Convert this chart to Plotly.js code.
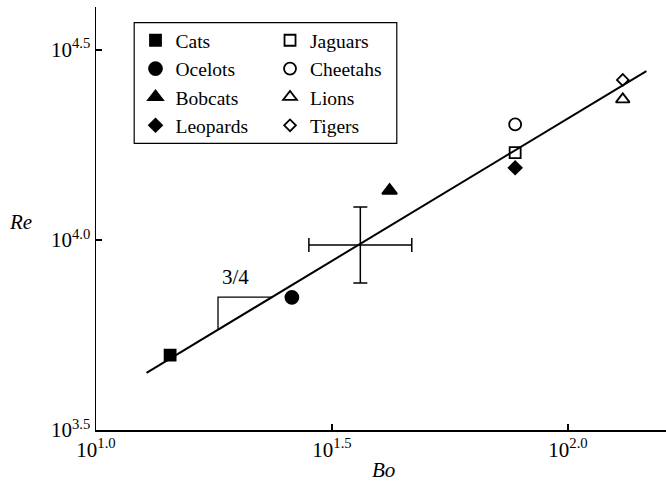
<!DOCTYPE html>
<html>
<head>
<meta charset="utf-8">
<script src="https://cdn.plot.ly/plotly-3.0.1.min.js"></script>
<style>
html,body{margin:0;padding:0;background:#fff;}
#chart{width:666px;height:491px;}
#chart text{font-family:'Times New Roman',serif !important;fill:#000 !important;}
#chart .legendtext{font-size:19.5px !important;}
#chart .xtick text,#chart .ytick text{font-size:21px !important;}
#chart .annotation-text{font-size:21px !important;}
</style>
</head>
<body>
<div id="chart"></div>
<script>
// ---- data (log10 values) ----
const animals = ['Cats', 'Ocelots', 'Bobcats', 'Leopards', 'Jaguars', 'Cheetahs', 'Lions', 'Tigers'];
const logBo   = [1.157, 1.415, 1.622, 1.888, 1.888, 1.888, 2.116, 2.116];
const logRe   = [3.697, 3.849, 4.130, 4.190, 4.230, 4.304, 4.370, 4.421];

// fit line: log Re = fitSlope * log Bo + fitIntercept
const fitSlope = 0.75;
const fitIntercept = 2.82;
const fitLogBoEnds = [1.107, 2.166];

// mean with error bars (in decades)
const meanLogBo = 1.560;
const meanLogRe = 3.987;
const errLogBo = 0.109;
const errLogRe = 0.100;

// slope triangle
const slopeTriLogBo = [1.2585, 1.3727];
const slopeLabel = '3/4';
const slopeLabelPos = [1.296, 3.903];

// tick labels
const xTickLogs = [1.0, 1.5, 2.0];
const yTickLogs = [3.5, 4.0, 4.5];
const xTickText = ['10<sup>1.0</sup>', '10<sup>1.5</sup>', '10<sup>2.0</sup>'];
const yTickText = ['10<sup>3.5</sup>', '10<sup>4.0</sup>', '10<sup>4.5</sup>'];

// ---- styles ----
const symbols = ['square', 'circle', 'triangle-up', 'diamond', 'square-open', 'circle-open', 'triangle-up-open', 'diamond-open'];
const sizes   = [11, 13, 13, 10, 11, 12, 12, 9];
const legendOf = ['legend', 'legend', 'legend', 'legend', 'legend2', 'legend2', 'legend2', 'legend2'];

const p = v => Math.pow(10, v);
const fitRe = lb => fitIntercept + fitSlope * lb;
const FONT = 'Times New Roman';

const traces = [];
animals.forEach((name, i) => {
  traces.push({
    type: 'scatter', mode: 'markers', name: name, legend: legendOf[i],
    x: [p(logBo[i])], y: [p(logRe[i])],
    marker: {symbol: symbols[i], size: sizes[i], color: 'black', line: {color: 'black', width: 1.8}}
  });
});

traces.push({
  type: 'scatter', mode: 'lines', showlegend: false,
  x: fitLogBoEnds.map(p), y: fitLogBoEnds.map(v => p(fitRe(v))),
  line: {color: 'black', width: 2}
});

traces.push({
  type: 'scatter', mode: 'lines', showlegend: false,
  x: [slopeTriLogBo[0], slopeTriLogBo[0], slopeTriLogBo[1]].map(p),
  y: [fitRe(slopeTriLogBo[0]), fitRe(slopeTriLogBo[1]), fitRe(slopeTriLogBo[1])].map(p),
  line: {color: 'black', width: 1.3}
});

traces.push({
  type: 'scatter', mode: 'markers', showlegend: false,
  x: [p(meanLogBo)], y: [p(meanLogRe)],
  marker: {size: 1, color: 'rgba(0,0,0,0)'},
  error_x: {type: 'data', symmetric: false,
    array: [p(meanLogBo + errLogBo) - p(meanLogBo)],
    arrayminus: [p(meanLogBo) - p(meanLogBo - errLogBo)],
    color: 'black', thickness: 1.5, width: 7},
  error_y: {type: 'data', symmetric: false,
    array: [p(meanLogRe + errLogRe) - p(meanLogRe)],
    arrayminus: [p(meanLogRe) - p(meanLogRe - errLogRe)],
    color: 'black', thickness: 1.5, width: 7}
});

const legendBase = {
  xref: 'paper', yref: 'paper', xanchor: 'left', yanchor: 'top',
  y: 0.9667, bgcolor: 'rgba(0,0,0,0)', borderwidth: 0,
  font: {family: FONT, size: 19.5, color: '#000'}, traceorder: 'normal'
};

const layout = {
  width: 666, height: 491,
  margin: {l: 96, r: 0, t: 7, b: 61, autoexpand: false},
  paper_bgcolor: 'white', plot_bgcolor: 'white',
  font: {family: FONT, size: 20, color: '#000'},
  showlegend: true,
  legend: Object.assign({}, legendBase, {x: 0.0693}),
  legend2: Object.assign({}, legendBase, {x: 0.3053}),
  shapes: [
    {type: 'rect', xref: 'paper', yref: 'paper', x0: 0.067, x1: 0.5277, y0: 0.6778, y1: 0.9629,
     line: {color: 'black', width: 1.2}, fillcolor: 'rgba(0,0,0,0)', layer: 'above'}
  ],
  xaxis: {
    type: 'log', range: [1.0, 2.2076], automargin: false,
    tickvals: xTickLogs.map(p), ticktext: xTickText,
    ticks: 'inside', ticklen: 6, tickwidth: 1.2, tickcolor: 'black',
    showline: true, linecolor: 'black', linewidth: 1.5,
    showgrid: false, zeroline: false,
    tickfont: {family: FONT, size: 21, color: '#000'}
  },
  yaxis: {
    type: 'log', range: [3.5, 4.613], automargin: false,
    tickvals: yTickLogs.map(p), ticktext: yTickText,
    ticks: 'inside', ticklen: 6, tickwidth: 1.2, tickcolor: 'black',
    showline: true, linecolor: 'black', linewidth: 1.5,
    showgrid: false, zeroline: false,
    tickfont: {family: FONT, size: 21, color: '#000'}
  },
  annotations: [
    {text: '<i>Re</i>', xref: 'paper', yref: 'paper', x: -0.133, y: 0.491, showarrow: false,
     xanchor: 'center', yanchor: 'middle',
     font: {family: FONT, size: 21, color: '#000'}},
    {text: '<i>Bo</i>', xref: 'paper', yref: 'paper', x: 0.505, y: -0.095, showarrow: false,
     xanchor: 'center', yanchor: 'middle', font: {family: FONT, size: 21, color: '#000'}},
    {text: slopeLabel, xref: 'x', yref: 'y', x: slopeLabelPos[0], y: slopeLabelPos[1], showarrow: false,
     xanchor: 'center', yanchor: 'middle',
     font: {family: FONT, size: 21, color: '#000'}}
  ]
};

Plotly.newPlot('chart', traces, layout, {displayModeBar: false, staticPlot: true});
</script>
</body>
</html>
